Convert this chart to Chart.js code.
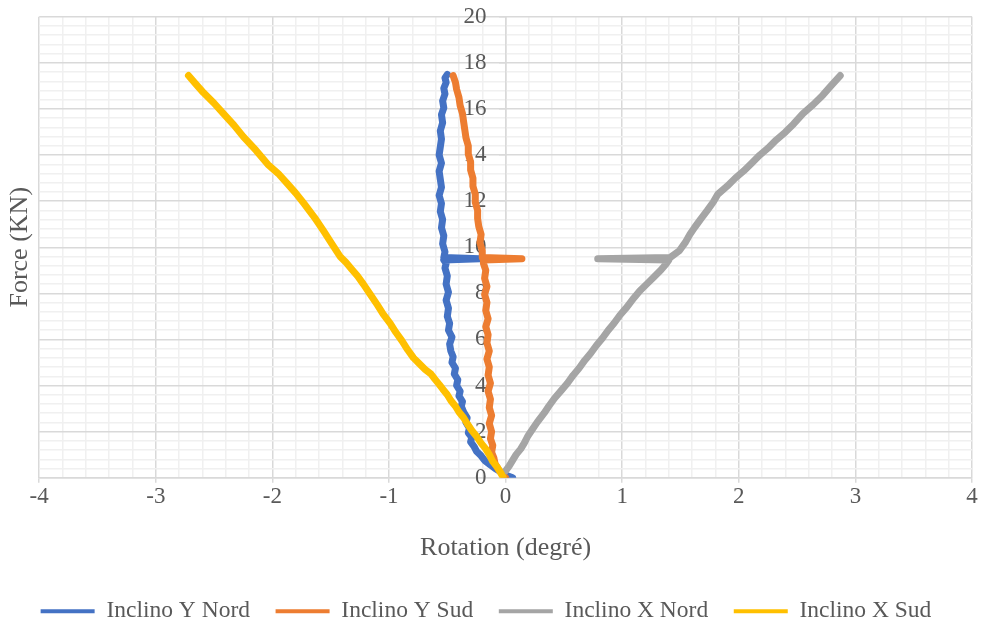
<!DOCTYPE html>
<html>
<head>
<meta charset="utf-8">
<script src="https://cdn.jsdelivr.net/npm/chart.js@4"></script>
<style>
    html, body { margin: 0; padding: 0; background: #ffffff; }
    #wrap { width: 981px; height: 626px; }
</style>
</head>
<body>
<div id="wrap"><canvas id="rotationChart" width="981" height="626"></canvas></div>
<script>
// Series labels and colours
const seriesNames = ['Inclino Y Nord', 'Inclino Y Sud', 'Inclino X Nord', 'Inclino X Sud'];
const seriesColors = ['#4472c4', '#ed7d31', '#a5a5a5', '#ffc000'];

// Axis ticks
const xTicks = [-4, -3, -2, -1, 0, 1, 2, 3, 4];
const yTicks = [0, 2, 4, 6, 8, 10, 12, 14, 16, 18, 20];

// Inclino Y Nord (rotation, force)
const yNordRot = [0.06, 0.01, -0.04, -0.09, -0.13, -0.18, -0.21, -0.25, -0.27, -0.30, -0.29, -0.32, -0.31, -0.34, -0.33, -0.36,
    -0.38, -0.37, -0.40, -0.39, -0.42, -0.41, -0.44, -0.43, -0.46, -0.45, -0.47, -0.48, -0.46, -0.49, -0.48, -0.50, -0.49,
    -0.51, -0.49, -0.51, -0.50, -0.52, -0.51, -0.53, -0.22, -0.53, -0.52, -0.54, -0.53, -0.55, -0.54, -0.56, -0.55, -0.57,
    -0.55, -0.56, -0.57, -0.55, -0.57, -0.56, -0.55, -0.56, -0.54, -0.55, -0.53, -0.54, -0.52, -0.53, -0.51, -0.52, -0.50];
const yNordForce = [0.00, 0.10, 0.25, 0.40, 0.55, 0.75, 0.95, 1.15, 1.35, 1.55, 1.75, 1.95, 2.15, 2.40, 2.60, 2.85,
    3.10, 3.30, 3.55, 3.75, 4.00, 4.25, 4.50, 4.75, 5.00, 5.25, 5.50, 5.80, 6.10, 6.40, 6.70, 7.00, 7.35,
    7.70, 8.05, 8.40, 8.75, 9.10, 9.30, 9.45, 9.50, 9.55, 9.80, 10.15, 10.50, 10.85, 11.20, 11.55, 11.90, 12.25,
    12.60, 12.95, 13.30, 13.65, 14.00, 14.35, 14.70, 15.05, 15.40, 15.75, 16.05, 16.35, 16.65, 16.90, 17.15, 17.35, 17.50];

// Inclino Y Sud
const ySudRot = [0.00, -0.03, -0.06, -0.09, -0.10, -0.12, -0.11, -0.13, -0.12, -0.14, -0.12, -0.14, -0.13, -0.15, -0.13,
    -0.15, -0.14, -0.16, -0.14, -0.16, -0.15, -0.17, -0.15, -0.17, -0.16, -0.18, -0.16, -0.18, -0.17, -0.19, -0.19, 0.14,
    -0.20, -0.20, -0.22, -0.21, -0.23, -0.24, -0.24, -0.26, -0.26, -0.28, -0.28, -0.30, -0.30, -0.32, -0.32, -0.34, -0.35,
    -0.36, -0.37, -0.39, -0.40, -0.42, -0.43, -0.45];
const ySudForce = [0.00, 0.15, 0.35, 0.60, 0.85, 1.10, 1.40, 1.70, 2.00, 2.35, 2.70, 3.05, 3.40, 3.75, 4.10,
    4.45, 4.80, 5.15, 5.50, 5.85, 6.20, 6.55, 6.90, 7.25, 7.60, 7.95, 8.30, 8.65, 9.00, 9.30, 9.45, 9.50,
    9.55, 9.85, 10.20, 10.55, 10.90, 11.25, 11.60, 11.95, 12.30, 12.65, 13.00, 13.35, 13.70, 14.05, 14.40, 14.75, 15.10,
    15.45, 15.80, 16.15, 16.50, 16.85, 17.15, 17.45];

// Inclino X Nord
const xNordRot = [0.00, 0.03, 0.06, 0.09, 0.13, 0.16, 0.19, 0.23, 0.27, 0.33, 0.37, 0.42, 0.48, 0.53, 0.58, 0.63, 0.68,
    0.73, 0.78, 0.83, 0.88, 0.93, 0.98, 1.04, 1.10, 1.15, 1.21, 1.27, 1.33, 1.38, 1.40, 0.79, 1.41, 1.49, 1.54, 1.58,
    1.62, 1.67, 1.73, 1.78, 1.82, 1.90, 1.97, 2.04, 2.11, 2.18, 2.25, 2.32, 2.40, 2.47, 2.55, 2.64, 2.72, 2.79, 2.87];
const xNordForce = [0.30, 0.50, 0.75, 1.00, 1.25, 1.50, 1.80, 2.10, 2.40, 2.80, 3.10, 3.45, 3.80, 4.10, 4.45, 4.75, 5.10,
    5.40, 5.75, 6.05, 6.40, 6.70, 7.05, 7.40, 7.80, 8.10, 8.40, 8.70, 9.00, 9.30, 9.45, 9.50, 9.55, 9.85, 10.20, 10.55,
    10.85, 11.20, 11.60, 11.95, 12.30, 12.65, 13.00, 13.30, 13.65, 14.00, 14.30, 14.65, 15.00, 15.35, 15.80, 16.20, 16.60, 17.00, 17.45];

// Inclino X Sud
const xSudRot = [-0.02, -0.04, -0.07, -0.11, -0.14, -0.17, -0.21, -0.25, -0.29, -0.33, -0.36, -0.40, -0.43, -0.47, -0.50,
    -0.54, -0.57, -0.61, -0.64, -0.69, -0.72, -0.75, -0.79, -0.84, -0.89, -0.94, -0.99, -1.05, -1.10, -1.16, -1.22,
    -1.27, -1.32, -1.37, -1.42, -1.49, -1.56, -1.64, -1.73, -1.80, -1.87, -1.95, -2.04, -2.14, -2.25, -2.33, -2.42,
    -2.50, -2.59, -2.66, -2.72];
const xSudForce = [0.00, 0.20, 0.45, 0.70, 1.00, 1.25, 1.50, 1.80, 2.05, 2.35, 2.60, 2.85, 3.10, 3.35, 3.60,
    3.85, 4.05, 4.30, 4.50, 4.70, 4.85, 5.00, 5.20, 5.55, 5.95, 6.30, 6.70, 7.10, 7.50, 7.95, 8.40,
    8.75, 9.05, 9.35, 9.60, 10.15, 10.70, 11.30, 11.90, 12.35, 12.75, 13.20, 13.60, 14.20, 14.80, 15.30, 15.80,
    16.25, 16.70, 17.10, 17.45];

const rotations = [yNordRot, ySudRot, xNordRot, xSudRot];
const forces = [yNordForce, ySudForce, xNordForce, xSudForce];

const serif = "'Liberation Serif', 'Times New Roman', serif";
const textGrey = '#595959';

function isMajor(value, step) {
    const q = value / step;
    return Math.abs(q - Math.round(q)) < 1e-6;
}

// Excel draws later series on top, Chart.js draws lower order on top
const datasets = seriesNames.map((name, i) => ({
    label: name,
    data: rotations[i].map((r, j) => ({ x: r, y: forces[i][j] })),
    borderColor: seriesColors[i],
    backgroundColor: seriesColors[i],
    borderWidth: 7,
    borderJoinStyle: 'round',
    borderCapStyle: 'round',
    showLine: true,
    pointRadius: 0,
    pointHoverRadius: 0,
    order: seriesNames.length - i
}));

new Chart(document.getElementById('rotationChart').getContext('2d'), {
    type: 'scatter',
    data: { datasets: datasets },
    options: {
        responsive: false,
        animation: false,
        devicePixelRatio: 1,
        layout: { padding: { top: 4, right: 9, left: 0, bottom: -7 } },
        plugins: {
            tooltip: { enabled: false },
            legend: {
                position: 'bottom',
                labels: {
                    font: { family: serif, size: 23.5 },
                    color: textGrey,
                    boxWidth: 54,
                    boxHeight: 4,
                    padding: 8,
                    // trailing spaces widen the gap between items
                    generateLabels: chart => chart.data.datasets.map((ds, i) => ({
                        text: ds.label + (i < chart.data.datasets.length - 1 ? '\u2002\u2005' : ''),
                        fillStyle: ds.borderColor,
                        strokeStyle: ds.borderColor,
                        lineWidth: 0,
                        fontColor: textGrey,
                        datasetIndex: i
                    }))
                }
            }
        },
        scales: {
            x: {
                type: 'linear',
                position: 'bottom',
                min: xTicks[0],
                max: xTicks[xTicks.length - 1],
                afterBuildTicks: axis => {
                    const t = [];
                    for (let k = 0; k <= 40; k++) t.push({ value: xTicks[0] + k * 0.2 });
                    axis.ticks = t;
                },
                ticks: {
                    autoSkip: false,
                    maxRotation: 0,
                    padding: 0,
                    color: textGrey,
                    font: { family: serif, size: 23 },
                    callback: v => isMajor(v, 1) && xTicks.includes(Math.round(v)) ? String(Math.round(v)) : ''
                },
                grid: {
                    color: c => (c.tick && isMajor(c.tick.value, 1)) ? '#d9d9d9' : '#f0f0f0',
                    lineWidth: 1.5,
                    tickLength: 5,
                    tickColor: c => (c.tick && isMajor(c.tick.value, 1)) ? '#d9d9d9' : 'rgba(0,0,0,0)'
                },
                border: { color: '#d9d9d9', width: 1.5 },
                title: {
                    display: true,
                    text: 'Rotation (degré)',
                    color: textGrey,
                    font: { family: serif, size: 26 },
                    padding: { top: 22, bottom: 28 }
                }
            },
            y: {
                type: 'linear',
                position: { x: 0 },
                min: yTicks[0],
                max: yTicks[yTicks.length - 1],
                afterBuildTicks: axis => {
                    const t = [];
                    for (let k = 0; k <= 50; k++) t.push({ value: k * 0.4 });
                    axis.ticks = t;
                },
                ticks: {
                    autoSkip: false,
                    color: textGrey,
                    font: { family: serif, size: 23 },
                    // labels of an axis placed at x = 0 sit flush on it, spaces push them left
                    callback: v => isMajor(v, 2) ? String(Math.round(v)) + '\u2002\u2004' : ''
                },
                grid: {
                    color: c => (c.tick && isMajor(c.tick.value, 2)) ? '#d9d9d9' : '#f0f0f0',
                    lineWidth: 1.5,
                    tickLength: 6,
                    tickColor: c => (c.tick && isMajor(c.tick.value, 2)) ? '#d9d9d9' : 'rgba(0,0,0,0)'
                },
                border: { color: '#d9d9d9', width: 1.5 }
            },
            yTitle: {
                type: 'linear',
                position: 'left',
                grid: { display: false, drawTicks: false },
                border: { display: false },
                ticks: { display: false },
                title: {
                    display: true,
                    text: 'Force (KN)',
                    color: textGrey,
                    font: { family: serif, size: 26 },
                    padding: { top: 5, bottom: 3 }
                }
            }
        }
    }
});
</script>
</body>
</html>
